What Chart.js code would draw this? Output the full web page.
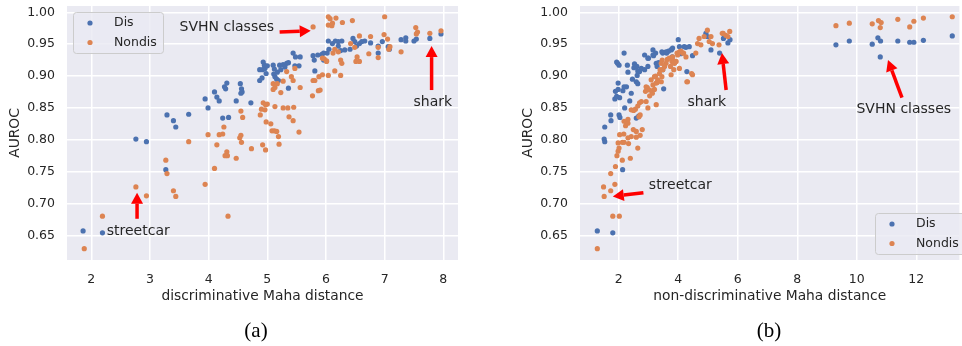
<!DOCTYPE html>
<html>
<head>
<meta charset="utf-8">
<script src="https://cdn.jsdelivr.net/npm/chart.js@4"></script>
<style>
  body { margin: 0; background: #fff; width: 962px; height: 346px; overflow: hidden; position: relative; }
  canvas { position: absolute; top: 0; }
  #left { left: 0; }
  #right { left: 470px; }
  .cap { position: absolute; font-family: "Liberation Serif", serif; font-size: 21px; color: #000; transform: translate(-50%, -50%); }
</style>
</head>
<body>
<canvas id="left" width="470" height="346"></canvas>
<canvas id="right" width="492" height="346"></canvas>
<div class="cap" style="left:256px; top:330px">(a)</div>
<div class="cap" style="left:769px; top:330px">(b)</div>
<script>
const dis_color = '#4c72b0';
const nondis_color = '#dd8452';
const ink = '#262626';

const yTicks = [0.65, 0.70, 0.75, 0.80, 0.85, 0.90, 0.95, 1.00];
const xTicksLeft = [2, 3, 4, 5, 6, 7, 8];
const xTicksRight = [2, 4, 6, 8, 10, 12];

// (a) discriminative Maha distance vs AUROC
const disLeft = [
  [1.86,0.657],[2.19,0.654],[2.76,0.801],[2.94,0.797],[3.27,0.753],[3.29,0.839],[3.40,0.830],[3.44,0.820],
  [3.66,0.840],[3.94,0.864],[3.99,0.850],[4.10,0.875],[4.14,0.867],[4.18,0.861],[4.24,0.834],[4.27,0.883],
  [4.29,0.880],[4.31,0.889],[4.34,0.835],[4.47,0.861],[4.54,0.888],[4.56,0.880],[4.57,0.875],[4.55,0.873],
  [4.72,0.858],[4.87,0.893],[4.91,0.897],[4.93,0.922],[4.95,0.917],[4.87,0.910],[4.92,0.910],[4.96,0.912],
  [5.00,0.916],[4.98,0.904],[5.10,0.917],[5.12,0.911],[5.11,0.903],[5.13,0.899],[5.16,0.895],[5.19,0.893],
  [5.17,0.906],[5.21,0.917],[5.27,0.918],[5.33,0.920],[5.36,0.921],[5.30,0.914],[5.23,0.910],[5.36,0.881],
  [5.44,0.936],[5.48,0.930],[5.56,0.930],[5.47,0.916],[5.54,0.916],[5.81,0.908],[5.78,0.932],[5.80,0.925],
  [5.86,0.933],[5.93,0.934],[5.96,0.936],[6.04,0.955],[6.02,0.936],[5.96,0.925],[6.05,0.942],[6.11,0.951],
  [6.16,0.955],[6.21,0.954],[6.27,0.955],[6.21,0.947],[6.25,0.940],[6.32,0.941],[6.41,0.942],[6.46,0.959],
  [6.49,0.954],[6.52,0.947],[6.57,0.951],[6.61,0.954],[6.66,0.955],[6.76,0.952],[6.89,0.947],[6.89,0.936],
  [6.96,0.954],[7.06,0.946],[7.08,0.942],[7.28,0.957],[7.36,0.960],[7.36,0.955],[7.50,0.955],[7.54,0.958],
  [7.77,0.959],[7.96,0.966]
];
const nondisLeft = [
  [1.88,0.629],[2.19,0.680],[2.76,0.726],[2.94,0.712],[3.27,0.768],[3.29,0.747],[3.40,0.720],[3.44,0.711],
  [3.66,0.797],[3.94,0.730],[3.99,0.808],[4.10,0.755],[4.14,0.792],[4.18,0.808],[4.24,0.809],[4.26,0.820],
  [4.31,0.781],[4.32,0.775],[4.28,0.775],[4.33,0.680],[4.47,0.771],[4.53,0.803],[4.56,0.796],[4.55,0.807],
  [4.55,0.845],[4.58,0.835],[4.73,0.786],[4.88,0.839],[4.90,0.848],[4.93,0.858],[4.96,0.847],[4.97,0.855],
  [5.00,0.856],[4.92,0.792],[4.97,0.784],[4.98,0.828],[5.06,0.825],[5.08,0.814],[5.12,0.814],[5.16,0.813],
  [5.19,0.805],[5.20,0.793],[5.13,0.852],[5.27,0.850],[5.35,0.850],[5.45,0.851],[5.37,0.836],[5.44,0.830],
  [5.54,0.812],[5.10,0.888],[5.10,0.879],[5.13,0.882],[5.17,0.888],[5.23,0.874],[5.27,0.892],[5.33,0.907],
  [5.41,0.899],[5.44,0.893],[5.47,0.912],[5.56,0.882],[5.78,0.893],[5.81,0.893],[5.77,0.869],[5.87,0.877],
  [5.90,0.878],[5.88,0.899],[5.94,0.902],[6.04,0.901],[6.01,0.923],[5.97,0.927],[6.04,0.993],[6.04,0.980],
  [5.78,0.977],[6.07,0.990],[6.17,0.991],[6.11,0.983],[6.10,0.979],[6.28,0.984],[6.45,0.987],[7.00,0.993],
  [5.94,0.928],[6.01,0.924],[6.12,0.936],[6.21,0.938],[6.25,0.925],[6.27,0.920],[6.15,0.908],[6.25,0.901],
  [6.15,0.942],[6.42,0.951],[6.49,0.945],[6.57,0.963],[6.51,0.923],[6.57,0.923],[6.53,0.930],[6.73,0.935],
  [6.76,0.962],[6.89,0.945],[6.89,0.929],[6.99,0.965],[7.05,0.958],[7.09,0.946],[7.07,0.942],[7.28,0.938],
  [7.53,0.976],[7.56,0.969],[7.54,0.966],[7.77,0.967],[7.96,0.971]
];

// (b) non-discriminative Maha distance vs AUROC
const disRight = [
  [1.28,0.657],[1.80,0.654],[2.13,0.753],[1.51,0.801],[1.53,0.797],[1.53,0.820],[1.73,0.839],[1.74,0.830],
  [2.01,0.839],[2.04,0.835],[2.20,0.850],[2.59,0.834],[2.67,0.837],[1.87,0.864],[1.93,0.868],[2.03,0.866],
  [1.89,0.876],[1.98,0.879],[1.98,0.889],[2.14,0.877],[2.26,0.883],[2.18,0.883],[2.42,0.873],[2.37,0.861],
  [2.46,0.895],[2.59,0.891],[2.64,0.888],[2.62,0.901],[2.31,0.906],[2.29,0.917],[1.96,0.920],[2.01,0.917],
  [1.93,0.922],[2.18,0.936],[2.51,0.913],[2.53,0.919],[2.61,0.915],[2.64,0.908],[2.76,0.912],[2.70,0.907],
  [2.87,0.910],[2.98,0.915],[3.00,0.928],[3.17,0.932],[3.15,0.941],[3.26,0.920],[3.34,0.921],[3.29,0.915],
  [3.45,0.938],[3.48,0.936],[3.48,0.910],[3.51,0.880],[3.61,0.936],[3.67,0.939],[3.78,0.942],[3.80,0.930],
  [4.00,0.957],[4.09,0.935],[4.29,0.907],[4.48,0.932],[2.87,0.933],[2.98,0.928],[3.15,0.933],[3.24,0.936],
  [3.59,0.938],[3.76,0.941],[3.81,0.944],[4.04,0.946],[4.20,0.946],[4.26,0.945],[4.37,0.946],[4.93,0.967],
  [4.98,0.962],[5.10,0.941],[5.39,0.936],[5.52,0.959],[5.67,0.952],[5.74,0.957],
  [9.30,0.949],[9.75,0.955],[10.52,0.950],[10.71,0.960],[10.80,0.955],[10.79,0.930],[11.38,0.955],
  [11.78,0.953],[11.92,0.953],[12.24,0.956],[13.21,0.963]
];
const nondisRight = [
  [1.28,0.629],[1.80,0.680],[2.02,0.680],[1.51,0.711],[1.49,0.726],[1.73,0.720],[1.87,0.730],[1.73,0.747],
  [1.89,0.758],[2.12,0.768],[2.39,0.771],[1.94,0.775],[1.98,0.782],[2.01,0.787],[1.98,0.795],[2.12,0.796],
  [2.18,0.796],[2.33,0.794],[2.31,0.803],[2.17,0.809],[2.03,0.808],[2.42,0.805],[2.59,0.804],[2.64,0.787],
  [2.72,0.807],[2.59,0.813],[2.49,0.816],[2.79,0.816],[2.23,0.822],[2.26,0.827],[2.31,0.826],[2.18,0.829],
  [2.31,0.832],[2.42,0.847],[2.56,0.848],[2.64,0.853],[2.50,0.846],[2.70,0.858],[2.68,0.836],[2.72,0.839],
  [2.76,0.860],[2.92,0.860],[2.98,0.850],[3.26,0.855],[2.90,0.876],[2.96,0.882],[3.04,0.869],[3.20,0.879],
  [3.13,0.873],[3.15,0.886],[3.24,0.900],[3.29,0.890],[3.43,0.891],[3.45,0.899],[3.39,0.910],[3.59,0.920],
  [3.46,0.925],[3.63,0.926],[3.74,0.915],[3.79,0.923],[3.85,0.923],[3.88,0.921],[4.04,0.912],[3.96,0.936],
  [4.09,0.939],[4.18,0.936],[4.26,0.930],[4.29,0.891],[4.45,0.904],[2.92,0.883],[3.04,0.878],[3.09,0.894],
  [3.26,0.889],[3.20,0.899],[3.31,0.894],[3.37,0.904],[3.48,0.910],[3.43,0.920],[3.54,0.915],[3.70,0.928],
  [3.81,0.930],[3.85,0.910],[3.87,0.920],[3.76,0.902],[3.93,0.923],[3.98,0.933],[4.04,0.938],[4.15,0.936],
  [4.31,0.891],[4.48,0.902],[4.59,0.936],[4.65,0.951],[4.70,0.959],[4.76,0.949],[4.87,0.962],[4.98,0.972],
  [5.04,0.954],[5.15,0.951],[5.10,0.962],[5.37,0.949],[5.48,0.967],[5.60,0.964],[5.73,0.970],[5.51,0.967],
  [5.67,0.962],
  [9.30,0.979],[9.75,0.983],[10.52,0.982],[10.73,0.987],[10.82,0.984],[10.79,0.976],[11.38,0.989],
  [11.78,0.977],[11.92,0.986],[12.24,0.991],[13.21,0.993]
];

// annotation text anchors and arrows, in data units
const notesLeft = [
  { text: 'SVHN classes', at: [4.31, 0.977], from: [5.21, 0.969], to: [5.74, 0.971] },
  { text: 'shark', at: [7.82, 0.858], from: [7.80, 0.878], to: [7.80, 0.947] },
  { text: 'streetcar', at: [2.80, 0.657], from: [2.78, 0.676], to: [2.78, 0.717] }
];
const notesRight = [
  { text: 'shark', at: [4.96, 0.858], from: [5.61, 0.878], to: [5.47, 0.936] },
  { text: 'SVHN classes', at: [11.58, 0.848], from: [11.52, 0.866], to: [11.05, 0.925] },
  { text: 'streetcar', at: [4.07, 0.728], from: [2.83, 0.717], to: [1.80, 0.711] }
];

const tickFont = { family: 'DejaVu Sans', size: 12.5, lineHeight: 0.9 };
const titleFont = { family: 'DejaVu Sans', size: 13.8 };

const areaFill = {
  id: 'areaFill',
  beforeDraw(chart) {
    const { ctx, chartArea: a } = chart;
    ctx.save();
    ctx.fillStyle = '#eaeaf2';
    ctx.fillRect(a.left, a.top, a.right - a.left, a.bottom - a.top);
    ctx.restore();
  }
};

function arrow(ctx, x0, y0, x1, y1) {
  var ang = Math.atan2(y1 - y0, x1 - x0);
  var hl = 11, hw = 6;
  var bx = x1 - hl * Math.cos(ang), by = y1 - hl * Math.sin(ang);
  ctx.strokeStyle = '#ff0000';
  ctx.lineWidth = 3.5;
  ctx.beginPath();
  ctx.moveTo(x0, y0);
  ctx.lineTo(bx, by);
  ctx.stroke();
  ctx.fillStyle = '#ff0000';
  ctx.beginPath();
  ctx.moveTo(x1, y1);
  ctx.lineTo(bx + hw * Math.sin(ang), by - hw * Math.cos(ang));
  ctx.lineTo(bx - hw * Math.sin(ang), by + hw * Math.cos(ang));
  ctx.closePath();
  ctx.fill();
}

const notes = {
  id: 'notes',
  afterDatasetsDraw(chart, args, opts) {
    const { ctx, scales: { x, y } } = chart;
    ctx.save();
    opts.items.forEach(function(n) {
      arrow(ctx, x.getPixelForValue(n.from[0]), y.getPixelForValue(n.from[1]),
                 x.getPixelForValue(n.to[0]), y.getPixelForValue(n.to[1]));
      ctx.font = '14px "DejaVu Sans"';
      ctx.fillStyle = ink;
      ctx.textAlign = 'center';
      ctx.textBaseline = 'middle';
      ctx.fillText(n.text, x.getPixelForValue(n.at[0]), y.getPixelForValue(n.at[1]));
    });
    ctx.restore();
  }
};

const boxLegend = {
  id: 'boxLegend',
  afterDraw(chart, args, opts) {
    const { ctx, chartArea: a } = chart;
    var w = 90, h = 41;
    var left = a.left + opts.left;
    var top = opts.top != null ? a.top + opts.top : a.bottom - opts.bottom - h;
    ctx.save();
    ctx.beginPath();
    ctx.roundRect(left + 0.5, top + 0.5, w, h, 3);
    ctx.fillStyle = 'rgba(234,234,242,0.8)';
    ctx.fill();
    ctx.strokeStyle = '#cccccc';
    ctx.lineWidth = 1;
    ctx.stroke();
    chart.data.datasets.forEach(function(ds, i) {
      var cy = top + 11 + i * 19.5;
      ctx.beginPath();
      ctx.arc(left + 17, cy, 2.6, 0, Math.PI * 2);
      ctx.fillStyle = ds.backgroundColor;
      ctx.fill();
      ctx.fillStyle = ink;
      ctx.font = '12.5px "DejaVu Sans"';
      ctx.textAlign = 'left';
      ctx.textBaseline = 'middle';
      ctx.fillText(ds.label, left + 41, cy);
    });
    ctx.restore();
  }
};

function makeChart(id, { dis, nondis, xMin, xMax, xTicks, xTitle, padding, legendPos, items }) {
  var ctx = document.getElementById(id).getContext('2d');
  return new Chart(ctx, {
    type: 'scatter',
    data: {
      datasets: [
        { label: 'Dis', data: dis, backgroundColor: dis_color, order: 2 },
        { label: 'Nondis', data: nondis, backgroundColor: nondis_color, order: 1 }
      ]
    },
    options: {
      responsive: false,
      animation: false,
      layout: { padding: padding },
      elements: { point: { radius: 2.6, borderWidth: 0, hoverRadius: 2.6 } },
      plugins: {
        legend: { display: false },
        tooltip: { enabled: false },
        notes: { items: items },
        boxLegend: legendPos
      },
      scales: {
        x: {
          type: 'linear',
          min: xMin,
          max: xMax,
          afterBuildTicks: function(s) { s.ticks = xTicks.map(function(v) { return { value: v }; }); },
          afterFit: function(s) { s.height = 46; s.paddingLeft = 0; s.paddingRight = 0; },
          grid: { color: '#ffffff', lineWidth: 1.5, drawTicks: false },
          border: { display: false },
          ticks: { padding: 14, color: ink, font: tickFont, callback: function(v) { return String(v); } },
          title: { display: true, text: xTitle, color: ink, font: titleFont, padding: { top: 0, bottom: 1 } }
        },
        y: {
          type: 'linear',
          min: 0.6113,
          max: 1.0099,
          afterBuildTicks: function(s) { s.ticks = yTicks.map(function(v) { return { value: v }; }); },
          afterFit: function(s) { s.width = 67; s.paddingTop = 0; s.paddingBottom = 0; },
          grid: { color: '#ffffff', lineWidth: 1.5, drawTicks: false },
          border: { display: false },
          ticks: { padding: 12, color: ink, font: tickFont, callback: function(v) { return v.toFixed(2); } },
          title: { display: true, text: 'AUROC', color: ink, font: titleFont, padding: { top: 6.7, bottom: 0 } }
        }
      }
    },
    plugins: [areaFill, notes, boxLegend]
  });
}

makeChart('left', {
  dis: disLeft, nondis: nondisLeft,
  xMin: 1.586, xMax: 8.25, xTicks: xTicksLeft,
  xTitle: 'discriminative Maha distance',
  padding: { left: 0, right: 12, top: 6, bottom: 40 },
  legendPos: { left: 6, top: 6 },
  items: notesLeft
});

makeChart('right', {
  dis: disRight, nondis: nondisRight,
  xMin: 0.698, xMax: 13.45, xTicks: xTicksRight,
  xTitle: 'non-discriminative Maha distance',
  padding: { left: 43, right: 0, top: 6, bottom: 40 },
  legendPos: { left: 295, bottom: 6 },
  items: notesRight
});
</script>
</body>
</html>
